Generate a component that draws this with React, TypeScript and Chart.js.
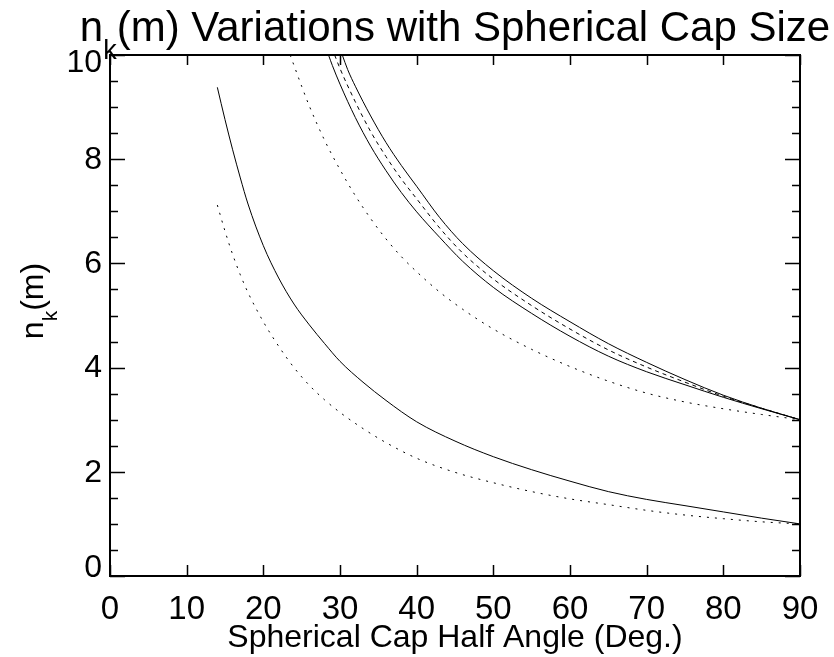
import React, { useEffect, useRef } from "react";
import { Chart, registerables } from "chart.js";

Chart.register(...registerables);

const FONT = '"Liberation Sans", Arial, Helvetica, sans-serif';

// Axis ticks
const xTickValues = [0, 10, 20, 30, 40, 50, 60, 70, 80, 90];
const yTickValues = [0, 2, 4, 6, 8, 10];
const yTickLabels = ["0", "2", "4", "6", "8", "10"];
const yMinorTickValues = [0.5, 1, 1.5, 2.5, 3, 3.5, 4.5, 5, 5.5, 6.5, 7, 7.5, 8.5, 9, 9.5];

// Lower solid curve
const lowSolidX = [14, 15, 16, 17, 18, 20, 22, 24, 26, 28, 30, 33, 36, 40, 45, 50, 55, 60, 65, 70, 75, 80, 85, 90];
const lowSolidY = [9.38, 8.76, 8.18, 7.64, 7.14, 6.34, 5.72, 5.22, 4.82, 4.46, 4.12, 3.72, 3.37, 2.96, 2.59, 2.29, 2.04, 1.82, 1.62, 1.47, 1.35, 1.23, 1.11, 1.0];

// Lower dotted curve
const lowDotX = [14, 15, 16, 17, 18, 20, 22, 24, 26, 28, 30, 33, 36, 40, 45, 50, 55, 60, 65, 70, 75, 80, 85, 90];
const lowDotY = [7.12, 6.62, 6.17, 5.78, 5.44, 4.88, 4.41, 4.0, 3.66, 3.38, 3.14, 2.83, 2.56, 2.26, 1.99, 1.79, 1.62, 1.48, 1.37, 1.26, 1.17, 1.1, 1.04, 1.0];

// Upper dotted curve
const upDotX = [23.5, 24, 25, 26, 28, 30, 32, 34, 36, 38, 40, 43, 46, 50, 55, 60, 65, 70, 75, 80, 85, 90];
const upDotY = [10.0, 9.8, 9.4, 9.02, 8.36, 7.8, 7.3, 6.86, 6.47, 6.13, 5.84, 5.45, 5.12, 4.74, 4.35, 4.02, 3.74, 3.51, 3.34, 3.21, 3.1, 3.0];

// Upper solid curve (inner)
const upSolidInX = [28.5, 29, 30, 32, 34, 36, 38, 40, 43, 46, 50, 55, 60, 65, 70, 75, 80, 85, 90];
const upSolidInY = [10.0, 9.8, 9.44, 8.8, 8.25, 7.78, 7.36, 6.99, 6.5, 6.04, 5.54, 5.04, 4.6, 4.22, 3.92, 3.67, 3.43, 3.21, 3.0];

// Upper dashed curve (middle)
const upDashX = [29.3, 30, 32, 34, 36, 38, 40, 43, 46, 50, 55, 60, 65, 70, 75, 80, 85, 90];
const upDashY = [10.0, 9.74, 9.1, 8.53, 8.05, 7.62, 7.24, 6.68, 6.2, 5.7, 5.19, 4.74, 4.34, 4.01, 3.72, 3.45, 3.22, 3.0];

// Upper solid curve (outer)
const upSolidOutX = [30.3, 31, 32, 34, 36, 38, 40, 43, 46, 50, 55, 60, 65, 70, 75, 80, 85, 90];
const upSolidOutY = [10.0, 9.72, 9.4, 8.83, 8.32, 7.88, 7.48, 6.88, 6.38, 5.86, 5.33, 4.88, 4.46, 4.1, 3.77, 3.47, 3.22, 3.0];

const zip = (xs: number[], ys: number[]) => xs.map((x, i) => ({ x, y: ys[i] }));

const framePlugin = {
  id: "frameTicks",
  afterDraw(chart: any) {
    const { ctx, chartArea, scales } = chart;
    const { left, right, top, bottom } = chartArea;
    const xs = scales.x;
    const ys = scales.y;
    ctx.save();
    ctx.strokeStyle = "#000";
    ctx.lineWidth = 1.5;
    ctx.beginPath();
    xTickValues.forEach((v) => {
      const px = Math.round(xs.getPixelForValue(v)) + 0.5;
      ctx.moveTo(px, bottom);
      ctx.lineTo(px, bottom - 11);
      ctx.moveTo(px, top);
      ctx.lineTo(px, top + 10);
    });
    yTickValues.forEach((v) => {
      const py = Math.round(ys.getPixelForValue(v)) + 0.5;
      ctx.moveTo(left, py);
      ctx.lineTo(left + 15, py);
      ctx.moveTo(right, py);
      ctx.lineTo(right - 15, py);
    });
    yMinorTickValues.forEach((v) => {
      const py = Math.round(ys.getPixelForValue(v)) + 0.5;
      ctx.moveTo(left, py);
      ctx.lineTo(left + 8, py);
      ctx.moveTo(right, py);
      ctx.lineTo(right - 8, py);
    });
    ctx.stroke();
    ctx.lineWidth = 2;
    ctx.strokeRect(left, top, right - left, bottom - top);

    // y tick labels (end labels nudged inward as in the reference)
    ctx.fillStyle = "#000";
    ctx.font = `32px ${FONT}`;
    ctx.textAlign = "right";
    ctx.textBaseline = "middle";
    yTickValues.forEach((v, i) => {
      let py = ys.getPixelForValue(v);
      if (i === 0) py -= 9;
      if (i === yTickValues.length - 1) py += 7;
      ctx.fillText(yTickLabels[i], left - 8, py + 1);
    });
    ctx.restore();
  },
};

const textPlugin = {
  id: "subscriptTexts",
  afterDraw(chart: any) {
    const { ctx, chartArea } = chart;
    ctx.save();
    ctx.fillStyle = "#000";
    ctx.textBaseline = "alphabetic";
    ctx.textAlign = "left";

    // Title: n_k(m) Variations with Spherical Cap Size
    const big = `42px ${FONT}`;
    const small = `27px ${FONT}`;
    const p1 = "n";
    const p2 = "k";
    const p3 = "(m) Variations with Spherical Cap Size";
    ctx.font = big;
    const w1 = ctx.measureText(p1).width;
    const w3 = ctx.measureText(p3).width;
    ctx.font = small;
    const w2 = ctx.measureText(p2).width;
    const total = w1 + w2 + w3;
    const cx = (chartArea.left + chartArea.right) / 2;
    const x0 = cx - total / 2;
    const base = 41;
    ctx.font = big;
    ctx.fillText(p1, x0, base);
    ctx.font = small;
    ctx.fillText(p2, x0 + w1, base + 18);
    ctx.font = big;
    ctx.fillText(p3, x0 + w1 + w2, base);

    // Y axis title: n_k(m), rotated
    const yb = `32px ${FONT}`;
    const ysm = `21px ${FONT}`;
    ctx.font = yb;
    const a1 = ctx.measureText("n").width;
    const a3 = ctx.measureText("(m)").width;
    ctx.font = ysm;
    const a2 = ctx.measureText("k").width;
    const ytotal = a1 + a2 + a3;
    ctx.translate(43, 301);
    ctx.rotate(-Math.PI / 2);
    const s0 = -ytotal / 2;
    ctx.font = yb;
    ctx.fillText("n", s0, 0);
    ctx.font = ysm;
    ctx.fillText("k", s0 + a1, 14);
    ctx.font = yb;
    ctx.fillText("(m)", s0 + a1 + a2, 0);
    ctx.restore();
  },
};

export default function App() {
  const ref = useRef<HTMLCanvasElement | null>(null);

  useEffect(() => {
    if (!ref.current) return;
    const line = (data: { x: number; y: number }[], dash: number[]) => ({
      data,
      showLine: true,
      borderColor: "#000",
      backgroundColor: "#000",
      borderWidth: 1,
      borderDash: dash,
      pointRadius: 0,
      pointHoverRadius: 0,
      fill: false,
      cubicInterpolationMode: "monotone" as const,
    });
    const chart = new Chart(ref.current, {
      type: "scatter",
      data: {
        datasets: [
          line(zip(lowSolidX, lowSolidY), []),
          line(zip(lowDotX, lowDotY), [2, 6]),
          line(zip(upDotX, upDotY), [2, 6]),
          line(zip(upSolidInX, upSolidInY), []),
          line(zip(upDashX, upDashY), [4, 4]),
          line(zip(upSolidOutX, upSolidOutY), []),
        ],
      },
      options: {
        responsive: false,
        animation: false,
        layout: { padding: { top: 55, right: 34, left: 0, bottom: 0 } },
        plugins: {
          legend: { display: false },
          tooltip: { enabled: false },
          title: { display: false },
        },
        scales: {
          x: {
            type: "linear",
            min: 0,
            max: 90,
            afterFit: (s: any) => {
              s.height = 81;
            },
            afterBuildTicks: (s: any) => {
              s.ticks = xTickValues.map((v) => ({ value: v }));
            },
            grid: { display: false },
            border: { display: false },
            ticks: {
              font: { size: 33, family: FONT },
              color: "#000",
              padding: 6,
              maxRotation: 0,
              autoSkip: false,
            },
            title: {
              display: true,
              text: "Spherical Cap Half Angle (Deg.)",
              font: { size: 32, family: FONT },
              color: "#000",
              padding: { top: 0, bottom: 0 },
            },
          },
          y: {
            type: "linear",
            min: 0,
            max: 10,
            afterFit: (s: any) => {
              s.width = 110;
            },
            afterBuildTicks: (s: any) => {
              s.ticks = yTickValues.map((v) => ({ value: v }));
            },
            grid: { display: false },
            border: { display: false },
            ticks: { display: false },
          },
        },
      },
      plugins: [framePlugin, textPlugin],
    });
    return () => chart.destroy();
  }, []);

  return (
    <div style={{ position: "absolute", left: 0, top: 0, width: 834, height: 657, background: "#fff" }}>
      <canvas ref={ref} width={834} height={657} />
    </div>
  );
}
